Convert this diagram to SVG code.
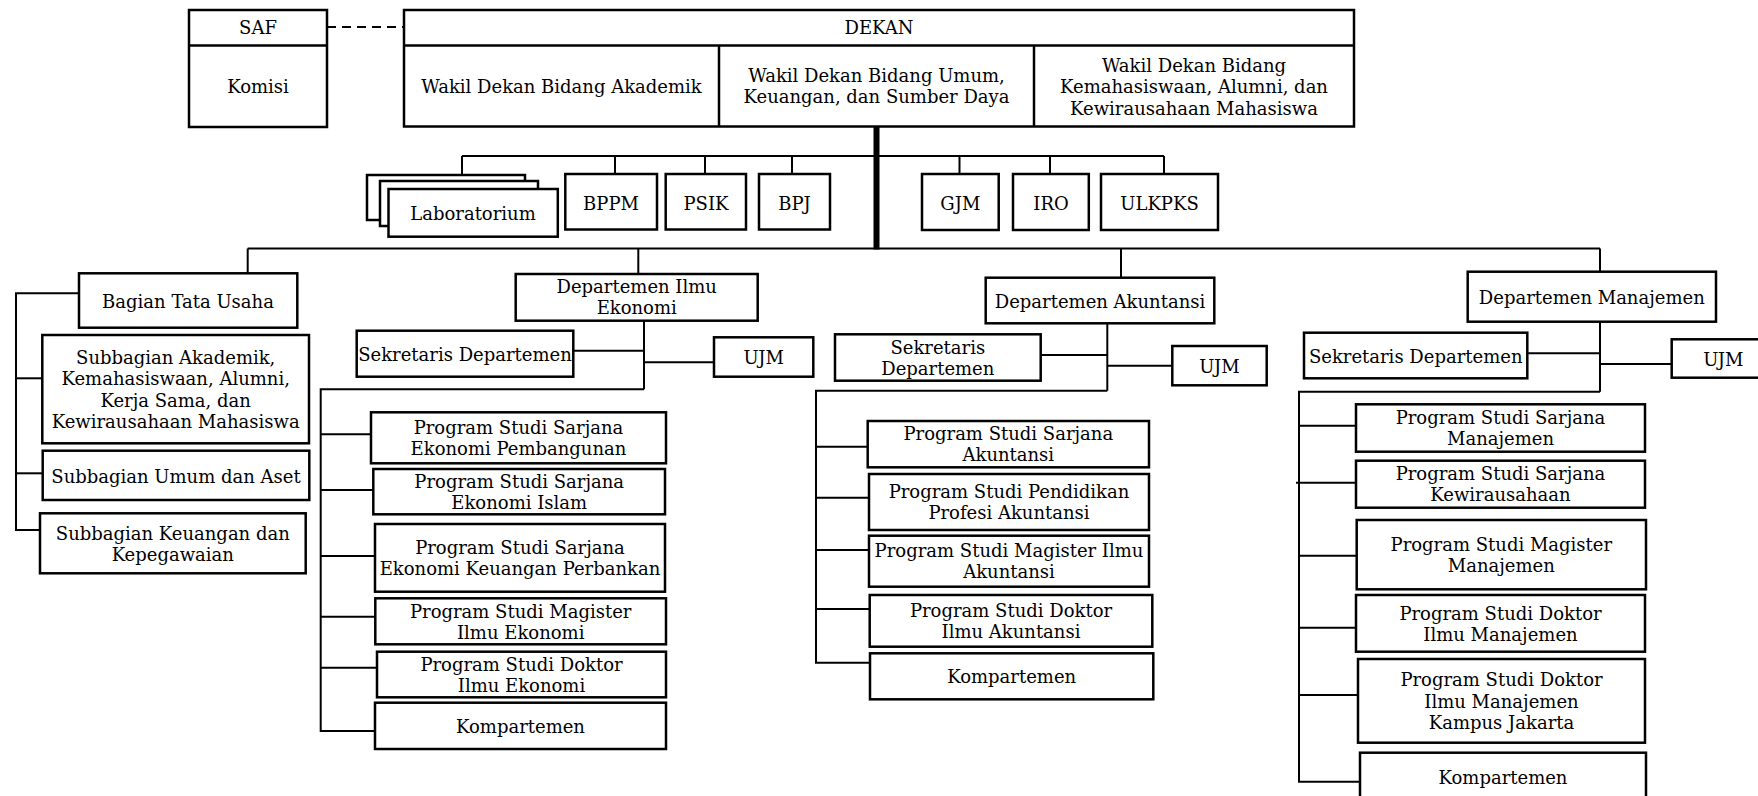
<svg xmlns="http://www.w3.org/2000/svg" width="1758" height="796" viewBox="0 0 1758 796">
<style>
.bg{fill:#fff}
.box{fill:#fff;stroke:#000;stroke-width:2.5}
.sep{stroke:#000;stroke-width:2.5;fill:none}
.conn{stroke:#000;stroke-width:2;fill:none}
.thick{stroke:#000;stroke-width:6;fill:none}
.dash{stroke:#000;stroke-width:2;stroke-dasharray:9 6;fill:none}
text{font-family:"DejaVu Serif","Liberation Serif",serif;font-size:18px;text-anchor:middle;fill:#000}
</style>
<rect class="bg" x="0" y="0" width="1758" height="796"/>

<g id="connectors">
  <line class="dash" x1="327" y1="27" x2="404" y2="27"/>
  <line class="thick" x1="876.5" y1="126" x2="876.5" y2="249.5"/>
  <line class="conn" x1="462" y1="156" x2="1164" y2="156"/>
  <line class="conn" x1="462" y1="156" x2="462" y2="175"/>
  <line class="conn" x1="615" y1="156" x2="615" y2="174"/>
  <line class="conn" x1="705" y1="156" x2="705" y2="174"/>
  <line class="conn" x1="792" y1="156" x2="792" y2="174"/>
  <line class="conn" x1="959.5" y1="156" x2="959.5" y2="174"/>
  <line class="conn" x1="1050" y1="156" x2="1050" y2="174"/>
  <line class="conn" x1="1164" y1="156" x2="1164" y2="174"/>
  <line class="conn" x1="247.7" y1="248.5" x2="1600" y2="248.5"/>
  <line class="conn" x1="247.7" y1="248.5" x2="247.7" y2="273.3"/>
  <line class="conn" x1="638.3" y1="248.5" x2="638.3" y2="274"/>
  <line class="conn" x1="1121" y1="248.5" x2="1121" y2="277.7"/>
  <line class="conn" x1="1600" y1="248.5" x2="1600" y2="271.7"/>
  <!-- Bagian Tata Usaha -->
  <polyline class="conn" points="79,293.3 16,293.3 16,530 40,530"/>
  <line class="conn" x1="16" y1="378.3" x2="42.3" y2="378.3"/>
  <line class="conn" x1="16" y1="473.3" x2="42.7" y2="473.3"/>
  <!-- Ilmu Ekonomi -->
  <line class="conn" x1="644" y1="320.7" x2="644" y2="389.3"/>
  <line class="conn" x1="573.3" y1="350.7" x2="644" y2="350.7"/>
  <line class="conn" x1="644" y1="362.3" x2="714" y2="362.3"/>
  <polyline class="conn" points="644,389.3 320.7,389.3 320.7,731 375,731"/>
  <line class="conn" x1="320.7" y1="434.3" x2="371" y2="434.3"/>
  <line class="conn" x1="320.7" y1="490" x2="373.3" y2="490"/>
  <line class="conn" x1="320.7" y1="556" x2="375" y2="556"/>
  <line class="conn" x1="320.7" y1="616.7" x2="375.3" y2="616.7"/>
  <line class="conn" x1="320.7" y1="667.7" x2="377" y2="667.7"/>
  <!-- Akuntansi -->
  <line class="conn" x1="1107.3" y1="323.3" x2="1107.3" y2="390.7"/>
  <line class="conn" x1="1040.7" y1="355" x2="1107.3" y2="355"/>
  <line class="conn" x1="1107.3" y1="365.7" x2="1172.3" y2="365.7"/>
  <polyline class="conn" points="1107.3,390.7 816,390.7 816,662.7 870,662.7"/>
  <line class="conn" x1="816" y1="446.7" x2="867.7" y2="446.7"/>
  <line class="conn" x1="816" y1="497.7" x2="869" y2="497.7"/>
  <line class="conn" x1="816" y1="550" x2="869" y2="550"/>
  <line class="conn" x1="816" y1="609" x2="869.7" y2="609"/>
  <!-- Manajemen -->
  <line class="conn" x1="1600" y1="321.7" x2="1600" y2="391.7"/>
  <line class="conn" x1="1527.3" y1="353.3" x2="1600" y2="353.3"/>
  <line class="conn" x1="1600" y1="364" x2="1671.7" y2="364"/>
  <polyline class="conn" points="1600,391.7 1299,391.7 1299,781.7 1360,781.7"/>
  <line class="conn" x1="1299" y1="425.7" x2="1356" y2="425.7"/>
  <line class="conn" x1="1296" y1="482.7" x2="1356" y2="482.7"/>
  <line class="conn" x1="1299" y1="555.7" x2="1356.7" y2="555.7"/>
  <line class="conn" x1="1299" y1="627.7" x2="1356" y2="627.7"/>
  <line class="conn" x1="1299" y1="695" x2="1358" y2="695"/>
</g>

<g id="saf">
  <rect class="box" x="189" y="10" width="138" height="117"/>
  <line class="sep" x1="189" y1="45.5" x2="327" y2="45.5"/>
  <text x="258" y="34">SAF</text>
  <text x="258" y="92.5">Komisi</text>
</g>

<g id="dekan">
  <rect class="box" x="404" y="10" width="950" height="116.5"/>
  <line class="sep" x1="404" y1="45.5" x2="1354" y2="45.5"/>
  <text x="879" y="34">DEKAN</text>
</g>
<g id="wd-akademik">
  <text x="561.5" y="92.5">Wakil Dekan Bidang Akademik</text>
</g>
<g id="wd-umum">
  <line class="sep" x1="719" y1="45.5" x2="719" y2="126.5"/>
  <text x="876.5" y="82">Wakil Dekan Bidang Umum,</text>
  <text x="876.5" y="103">Keuangan, dan Sumber Daya</text>
</g>
<g id="wd-kemahasiswaan">
  <line class="sep" x1="1034" y1="45.5" x2="1034" y2="126.5"/>
  <text x="1194" y="71.5">Wakil Dekan Bidang</text>
  <text x="1194" y="93">Kemahasiswaan, Alumni, dan</text>
  <text x="1194" y="114.5">Kewirausahaan Mahasiswa</text>
</g>

<g id="laboratorium">
  <rect class="box" x="367" y="175" width="158" height="45"/>
  <rect class="box" x="380" y="181" width="158" height="45"/>
  <rect class="box" x="388.5" y="189" width="169.3" height="47.7"/>
  <text x="473" y="220">Laboratorium</text>
</g>
<g id="bppm">
  <rect class="box" x="565.3" y="174" width="91.7" height="55.5"/>
  <text x="611" y="210">BPPM</text>
</g>
<g id="psik">
  <rect class="box" x="665.7" y="174" width="80.3" height="55.5"/>
  <text x="706" y="210">PSIK</text>
</g>
<g id="bpj">
  <rect class="box" x="759" y="174" width="71" height="55.5"/>
  <text x="794.5" y="210">BPJ</text>
</g>
<g id="gjm">
  <rect class="box" x="922" y="174" width="76.7" height="56"/>
  <text x="960.3" y="210">GJM</text>
</g>
<g id="iro">
  <rect class="box" x="1013" y="174" width="75.8" height="56"/>
  <text x="1051" y="210">IRO</text>
</g>
<g id="ulkpks">
  <rect class="box" x="1101" y="174" width="117" height="56"/>
  <text x="1159.5" y="210">ULKPKS</text>
</g>

<!-- Bagian Tata Usaha -->
<g id="bagian-tata-usaha">
  <rect class="box" x="79" y="273.3" width="218.3" height="54.4"/>
  <text x="188" y="308">Bagian Tata Usaha</text>
</g>
<g id="subbagian-akademik">
  <rect class="box" x="42.3" y="335" width="266.7" height="108.3"/>
  <text x="175.7" y="363.5">Subbagian Akademik,</text>
  <text x="175.7" y="385">Kemahasiswaan, Alumni,</text>
  <text x="175.7" y="406.5">Kerja Sama, dan</text>
  <text x="175.7" y="428">Kewirausahaan Mahasiswa</text>
</g>
<g id="subbagian-umum">
  <rect class="box" x="42.7" y="450.7" width="266.6" height="49.3"/>
  <text x="176" y="482.5">Subbagian Umum dan Aset</text>
</g>
<g id="subbagian-keuangan">
  <rect class="box" x="40" y="513.3" width="265.7" height="60"/>
  <text x="172.8" y="539.5">Subbagian Keuangan dan</text>
  <text x="172.8" y="560.5">Kepegawaian</text>
</g>

<!-- Departemen Ilmu Ekonomi -->
<g id="dept-ilmu-ekonomi">
  <rect class="box" x="515.7" y="274" width="242" height="46.7"/>
  <text x="636.7" y="293.3">Departemen Ilmu</text>
  <text x="636.7" y="314.3">Ekonomi</text>
</g>
<g id="ie-sekretaris">
  <rect class="box" x="356.7" y="330.7" width="216.6" height="46"/>
  <text x="465" y="360.5">Sekretaris Departemen</text>
</g>
<g id="ie-ujm">
  <rect class="box" x="714" y="337.3" width="99.3" height="39.4"/>
  <text x="763.7" y="364">UJM</text>
</g>
<g id="ie-ps-ep">
  <rect class="box" x="371" y="412.3" width="295" height="51"/>
  <text x="518.5" y="434">Program Studi Sarjana</text>
  <text x="518.5" y="455">Ekonomi Pembangunan</text>
</g>
<g id="ie-ps-ei">
  <rect class="box" x="373.3" y="469" width="291.7" height="45.3"/>
  <text x="519.2" y="487.8">Program Studi Sarjana</text>
  <text x="519.2" y="508.8">Ekonomi Islam</text>
</g>
<g id="ie-ps-ekp">
  <rect class="box" x="375" y="524" width="290" height="67.7"/>
  <text x="520" y="554">Program Studi Sarjana</text>
  <text x="520" y="575">Ekonomi Keuangan Perbankan</text>
</g>
<g id="ie-ps-magister">
  <rect class="box" x="375.3" y="598.3" width="290.7" height="46"/>
  <text x="520.7" y="617.5">Program Studi Magister</text>
  <text x="520.7" y="638.5">Ilmu Ekonomi</text>
</g>
<g id="ie-ps-doktor">
  <rect class="box" x="377" y="651.7" width="289" height="45.6"/>
  <text x="521.5" y="670.7">Program Studi Doktor</text>
  <text x="521.5" y="691.7">Ilmu Ekonomi</text>
</g>
<g id="ie-kompartemen">
  <rect class="box" x="375" y="702.7" width="291" height="46.3"/>
  <text x="520.5" y="732.7">Kompartemen</text>
</g>

<!-- Departemen Akuntansi -->
<g id="dept-akuntansi">
  <rect class="box" x="985.7" y="277.7" width="228.6" height="45.6"/>
  <text x="1100" y="308">Departemen Akuntansi</text>
</g>
<g id="ak-sekretaris">
  <rect class="box" x="835" y="334.3" width="205.7" height="46.4"/>
  <text x="937.8" y="353.7">Sekretaris</text>
  <text x="937.8" y="374.7">Departemen</text>
</g>
<g id="ak-ujm">
  <rect class="box" x="1172.3" y="346" width="94.4" height="39.3"/>
  <text x="1219.5" y="372.5">UJM</text>
</g>
<g id="ak-ps-sarjana">
  <rect class="box" x="867.7" y="421" width="281.3" height="46.3"/>
  <text x="1008.3" y="440.3">Program Studi Sarjana</text>
  <text x="1008.3" y="461.3">Akuntansi</text>
</g>
<g id="ak-ps-profesi">
  <rect class="box" x="869" y="474" width="280" height="56"/>
  <text x="1009" y="498.2">Program Studi Pendidikan</text>
  <text x="1009" y="519.2">Profesi Akuntansi</text>
</g>
<g id="ak-ps-magister">
  <rect class="box" x="869" y="535.7" width="280" height="51"/>
  <text x="1009" y="557.4">Program Studi Magister Ilmu</text>
  <text x="1009" y="578.4">Akuntansi</text>
</g>
<g id="ak-ps-doktor">
  <rect class="box" x="869.7" y="595" width="282.6" height="51.7"/>
  <text x="1011" y="617">Program Studi Doktor</text>
  <text x="1011" y="638">Ilmu Akuntansi</text>
</g>
<g id="ak-kompartemen">
  <rect class="box" x="870" y="653.3" width="283.3" height="46"/>
  <text x="1011.7" y="683.2">Kompartemen</text>
</g>

<!-- Departemen Manajemen -->
<g id="dept-manajemen">
  <rect class="box" x="1467.7" y="271.7" width="248.3" height="50"/>
  <text x="1591.8" y="303.7">Departemen Manajemen</text>
</g>
<g id="mn-sekretaris">
  <rect class="box" x="1304" y="332.7" width="223.3" height="45.6"/>
  <text x="1415.7" y="362.5">Sekretaris Departemen</text>
</g>
<g id="mn-ujm">
  <rect class="box" x="1671.7" y="339.3" width="110" height="38.4"/>
  <text x="1723.3" y="365.7">UJM</text>
</g>
<g id="mn-ps-sarjana">
  <rect class="box" x="1356" y="404.3" width="289" height="47.4"/>
  <text x="1500.5" y="424.2">Program Studi Sarjana</text>
  <text x="1500.5" y="445.2">Manajemen</text>
</g>
<g id="mn-ps-kewirausahaan">
  <rect class="box" x="1356" y="460.7" width="289" height="47"/>
  <text x="1500.5" y="480.4">Program Studi Sarjana</text>
  <text x="1500.5" y="501.4">Kewirausahaan</text>
</g>
<g id="mn-ps-magister">
  <rect class="box" x="1356.7" y="520" width="289.3" height="69.3"/>
  <text x="1501.3" y="550.9">Program Studi Magister</text>
  <text x="1501.3" y="571.9">Manajemen</text>
</g>
<g id="mn-ps-doktor">
  <rect class="box" x="1356" y="595" width="289" height="56.7"/>
  <text x="1500.5" y="619.5">Program Studi Doktor</text>
  <text x="1500.5" y="640.5">Ilmu Manajemen</text>
</g>
<g id="mn-ps-doktor-jakarta">
  <rect class="box" x="1358" y="659" width="287" height="83.7"/>
  <text x="1501.5" y="686">Program Studi Doktor</text>
  <text x="1501.5" y="707.5">Ilmu Manajemen</text>
  <text x="1501.5" y="729">Kampus Jakarta</text>
</g>
<g id="mn-kompartemen">
  <rect class="box" x="1360" y="752.7" width="286" height="60"/>
  <text x="1503" y="783.5">Kompartemen</text>
</g>
</svg>
